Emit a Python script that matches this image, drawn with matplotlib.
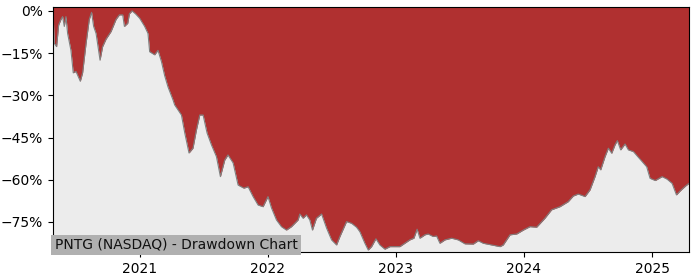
import matplotlib
matplotlib.use("Agg")
import matplotlib.pyplot as plt
import matplotlib.ticker as mticker
import numpy as np
import pandas as pd

# Decimal-year dates and drawdown values (%)
years = [
    2020.326, 2020.336, 2020.354, 2020.370, 2020.388, 2020.401, 2020.414, 2020.427, 2020.440, 2020.466,
    2020.484, 2020.505, 2020.539, 2020.557, 2020.584, 2020.609, 2020.627, 2020.643, 2020.662, 2020.693,
    2020.713, 2020.740, 2020.779, 2020.818, 2020.844, 2020.870, 2020.883, 2020.909, 2020.922, 2020.943,
    2020.969, 2021.000, 2021.039, 2021.065, 2021.078, 2021.117, 2021.143, 2021.170, 2021.195, 2021.221,
    2021.260, 2021.273, 2021.326, 2021.352, 2021.385, 2021.416, 2021.443, 2021.469, 2021.495, 2021.526,
    2021.560, 2021.599, 2021.630, 2021.664, 2021.689, 2021.729, 2021.768, 2021.813, 2021.846, 2021.885,
    2021.924, 2021.963, 2022.002, 2022.029, 2022.068, 2022.107, 2022.146, 2022.185, 2022.237, 2022.250,
    2022.276, 2022.302, 2022.328, 2022.349, 2022.380, 2022.420, 2022.459, 2022.498, 2022.537, 2022.563,
    2022.615, 2022.654, 2022.693, 2022.719, 2022.758, 2022.784, 2022.810, 2022.844, 2022.875, 2022.914,
    2022.953, 2022.992, 2023.031, 2023.070, 2023.109, 2023.141, 2023.166, 2023.188, 2023.227, 2023.252,
    2023.291, 2023.318, 2023.344, 2023.383, 2023.435, 2023.487, 2023.539, 2023.604, 2023.643, 2023.682,
    2023.748, 2023.813, 2023.838, 2023.891, 2023.943, 2023.995, 2024.047, 2024.099, 2024.164, 2024.216,
    2024.281, 2024.346, 2024.385, 2024.424, 2024.477, 2024.516, 2024.555, 2024.580, 2024.599, 2024.633,
    2024.659, 2024.685, 2024.711, 2024.729, 2024.755, 2024.789, 2024.815, 2024.854, 2024.906, 2024.958,
    2024.984, 2025.023, 2025.076, 2025.115, 2025.154, 2025.188, 2025.219, 2025.260, 2025.286,
]
drawdown = [
    0.0, -11.5, -12.7, -5.0, -3.0, -2.0, -5.5, -2.0, -8.0, -14.0,
    -22.0, -21.5, -25.0, -22.0, -11.5, -3.0, -0.5, -5.5, -8.0, -17.5,
    -12.7, -10.0, -7.3, -3.0, -1.4, -1.4, -5.5, -4.4, -1.0, 0.0,
    -1.0, -2.6, -5.5, -8.0, -14.5, -15.6, -14.0, -18.0, -23.0, -27.0,
    -31.6, -33.4, -37.0, -43.4, -50.5, -48.8, -42.3, -37.0, -37.0, -43.4,
    -47.6, -51.8, -58.9, -53.0, -51.2, -54.0, -61.9, -63.0, -62.5, -66.0,
    -69.0, -69.6, -66.0, -70.0, -74.3, -76.7, -77.9, -76.7, -74.3, -72.2,
    -73.7, -72.5, -74.3, -77.9, -73.7, -72.2, -77.2, -81.4, -83.2, -80.2,
    -74.9, -75.5, -76.9, -78.5, -82.6, -85.0, -83.8, -81.0, -83.2, -84.7,
    -83.8, -83.8, -83.8, -82.6, -81.4, -80.8, -77.6, -80.8, -79.6, -79.3,
    -80.2, -80.0, -82.6, -81.4, -80.8, -81.4, -82.8, -82.9, -81.7, -82.6,
    -83.2, -83.8, -83.2, -79.6, -79.3, -77.9, -76.7, -76.9, -73.7, -70.7,
    -69.6, -67.8, -65.8, -65.1, -66.0, -63.6, -58.9, -55.4, -56.5, -51.8,
    -48.8, -50.6, -47.6, -46.1, -49.4, -47.3, -49.4, -50.0, -52.7, -55.4,
    -59.5, -60.3, -58.9, -59.8, -61.3, -65.4, -63.9, -62.2, -61.3,
]
yticks = [0, -15, -30, -45, -60, -75]
label = "PNTG (NASDAQ) - Drawdown Chart"


def to_date(y):
    yr = int(np.floor(y))
    start = pd.Timestamp(year=yr, month=1, day=1)
    return start + pd.Timedelta(days=(y - yr) * 365.25)


dates = [to_date(y) for y in years]
dd = np.array(drawdown)

fig = plt.figure(figsize=(7.0, 2.8), dpi=100)
ax = fig.add_axes([53 / 700, 28 / 280, 636 / 700, 245 / 280])
ax.set_facecolor("#ececec")

top = 1.4
bottom = -85.7
ax.fill_between(dates, dd, top, color="#b03030", linewidth=0)
ax.plot(dates, dd, color="#808080", linewidth=0.8)

ax.set_ylim(bottom, top)
ax.set_xlim(dates[0], dates[-1])
ax.set_yticks(yticks)
ax.yaxis.set_major_formatter(mticker.FuncFormatter(lambda v, p: f"{int(v)}%".replace("-", "\u2212")))

import matplotlib.dates as mdates
ax.xaxis.set_major_locator(mdates.YearLocator())
ax.xaxis.set_major_formatter(mdates.DateFormatter("%Y"))

ax.text(0.003, 0.0, label, transform=ax.transAxes, fontsize=10, color="#111111",
        ha="left", va="bottom",
        bbox=dict(facecolor="#b0b0b0", edgecolor="none", pad=2.5))

fig.savefig("out.png", dpi=100)
